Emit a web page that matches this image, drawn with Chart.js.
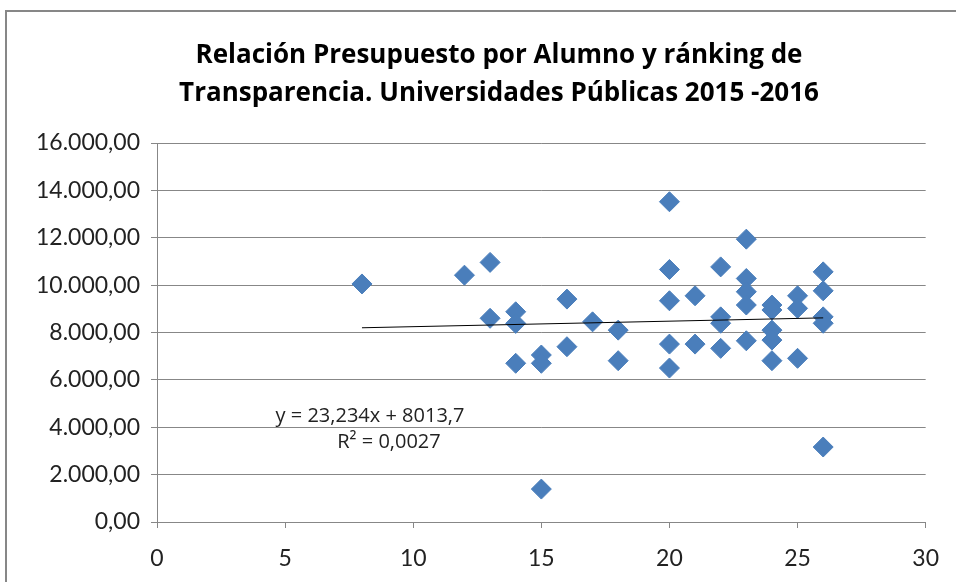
<!DOCTYPE html>
<html>
<head>
<meta charset="utf-8">
<script src="https://cdn.jsdelivr.net/npm/chart.js@4"></script>
<style>
  html, body { margin: 0; padding: 0; background: #fff; overflow: hidden; }
  #frame { position: absolute; left: 5px; top: 10px; width: 1000px; height: 1000px; border: 2px solid #878787; }
  #plot { position: absolute; left: 0; top: 0; }
</style>
</head>
<body>
<div id="frame"></div>
<canvas id="plot" width="956" height="582"></canvas>
<script>
// ranking de transparencia (x) y presupuesto por alumno (y)
const ranking = [8, 12, 13, 13, 14, 14, 14, 15, 15, 15, 16, 16, 17, 18, 18,
  20, 20, 20, 20, 20, 21, 21, 22, 22, 22, 22, 23, 23, 23, 23, 23,
  24, 24, 24, 24, 24, 25, 25, 25, 26, 26, 26, 26, 26];
const presupuesto = [10050, 10420, 10960, 8600, 8875, 8385, 6700, 7050, 6700, 1390, 9410, 7400, 8450, 8100, 6810,
  13520, 10660, 9340, 7510, 6500, 9550, 7510, 10770, 8660, 8390, 7330, 11940, 10280, 9720, 9160, 7650,
  9160, 8950, 8100, 7680, 6810, 9550, 9020, 6910, 10560, 9760, 8660, 8390, 3165];

const titleLines = ["Relación Presupuesto por Alumno y ránking de", "Transparencia. Universidades Públicas 2015 -2016"];
const trendSlope = 23.234;
const trendIntercept = 8013.7;
const trendRange = [8, 26];
const trendLabels = ["y = 23,234x + 8013,7", "R² = 0,0027"];

const points = ranking.map((r, i) => ({x: r, y: presupuesto[i]}));
const trend = trendRange.map(x => ({x: x, y: trendSlope * x + trendIntercept}));

function fmt(v) {
  let s = v.toFixed(2).split('.');
  return s[0].replace(/\B(?=(\d{3})+(?!\d))/g, '.') + ',' + s[1];
}

const textPlugin = {
  id: 'texts',
  afterDraw(chart) {
    const ctx = chart.ctx;
    ctx.save();
    ctx.fillStyle = '#000';
    ctx.textAlign = 'center';
    ctx.textBaseline = 'alphabetic';
    ctx.font = 'bold 26px "Open Sans"';
    ctx.fillText(titleLines[0], 499, 63);
    ctx.fillText(titleLines[1], 499, 101);
    ctx.font = '20px "Open Sans"';
    ctx.fillStyle = '#222';
    ctx.fillText(trendLabels[0], 370, 422);
    ctx.fillText(trendLabels[1], 389, 448);
    ctx.restore();
  }
};

const gridColor = '#878787';

const config = {
  type: 'scatter',
  data: {
    datasets: [{
      label: 'Presupuesto',
      data: points,
      pointStyle: 'rectRot',
      pointRadius: 10,
      pointHoverRadius: 10,
      backgroundColor: '#4A7EBB',
      borderColor: '#4A7EBB',
      borderWidth: 1,
      order: 2
    }, {
      type: 'line',
      label: 'Tendencia',
      data: trend,
      borderColor: '#000',
      borderWidth: 1,
      pointRadius: 0,
      fill: false,
      order: 1
    }]
  },
  options: {
    responsive: false,
    animation: false,
    layout: { autoPadding: false, padding: {top: 143, right: 29, bottom: 0, left: 0} },
    plugins: { legend: {display: false}, tooltip: {enabled: false}, title: {display: false} },
    scales: {
      x: {
        type: 'linear',
        min: 0, max: 30,
        afterFit: s => { s.height = 60; },
        ticks: { stepSize: 5, color: '#222', font: {family: 'Lato', size: 23}, padding: 17 },
        grid: { drawOnChartArea: false, drawTicks: true, tickLength: 6, color: gridColor },
        border: { display: true, color: gridColor, width: 1 }
      },
      y: {
        min: 0, max: 16000,
        afterFit: s => { s.width = 157; },
        ticks: { stepSize: 2000, color: '#222', font: {family: 'Lato', size: 23}, padding: 11, callback: v => fmt(v) },
        grid: { color: gridColor, tickLength: 6, lineWidth: 1 },
        border: { display: true, color: gridColor, width: 1 }
      }
    }
  },
  plugins: [textPlugin]
};

let ctx = document.getElementById("plot").getContext("2d");
let chart = new Chart(ctx, config);
</script>
</body>
</html>
